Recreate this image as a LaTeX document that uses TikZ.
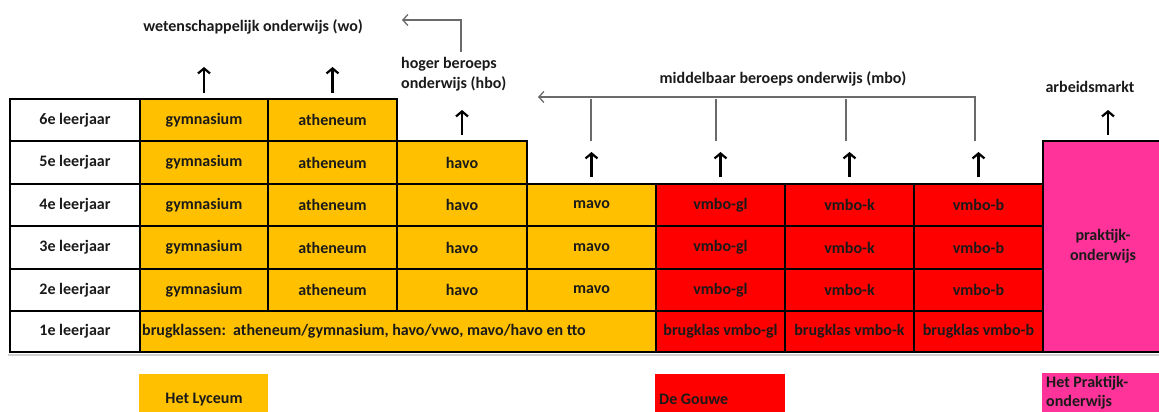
\documentclass[tikz,border=0pt]{standalone}
\usepackage{fontspec}
\setmainfont{Carlito}
\usetikzlibrary{arrows.meta}
\definecolor{lyc}{HTML}{FFC000}
\definecolor{gouwe}{HTML}{FF0000}
\definecolor{prak}{HTML}{FF3399}
\definecolor{conn}{HTML}{6A6A6A}
\definecolor{shadowline}{HTML}{D0D0D0}
\definecolor{ink}{HTML}{1A1A1A}
\newcommand\mkcell[7]{\node[cellbox,fill=#6,minimum width={(#4-#2)*1pt},minimum height={(#5-#3)*1pt}] (#1) at (#2,#3) {#7};}
\newcommand\legbox[6]{\node[legboxstyle,fill=#6,minimum width={(#4-#2)*1pt},minimum height={(#5-#3)*1pt}] (#1) at (#2,#3) {};}
\begin{document}
\begin{tikzpicture}[x=1pt,y=-1pt,
  txt/.style={font=\fontsize{16}{20}\selectfont\bfseries, text=ink, inner sep=0pt},
  cellbox/.style={draw=black, line width=2pt, inner sep=0pt, outer sep=0pt, anchor=north west, txt, align=center},
  legboxstyle/.style={draw=none, inner sep=0pt, outer sep=0pt, anchor=north west},
  up/.style={draw=black, line width=2.2pt, -{Straight Barb[length=5pt,width=12pt]}},
  gconn/.style={draw=conn, line width=1.3pt},
  garrow/.style={gconn, -{Straight Barb[length=5pt,width=11pt]}}]
\useasboundingbox (0,0) rectangle (1159,412);
% shadow line under the table
\draw[shadowline, line width=1.8pt] (8,355) -- (1159,355);
% pink block
\mkcell{prak}{1043}{141}{1163}{352}{prak}{praktijk-\\onderwijs}
% row 6
\mkcell{l6}{10}{99}{140}{141}{white}{6e leerjaar}
\mkcell{gym6}{140}{99}{268}{141}{lyc}{gymnasium}
\mkcell{ath6}{268}{99}{397}{141}{lyc}{atheneum}
% row 5
\mkcell{l5}{10}{141}{140}{184}{white}{5e leerjaar}
\mkcell{gym5}{140}{141}{268}{184}{lyc}{gymnasium}
\mkcell{ath5}{268}{141}{397}{184}{lyc}{atheneum}
\mkcell{havo5}{397}{141}{527}{184}{lyc}{havo}
% row 4
\mkcell{l4}{10}{184}{140}{226}{white}{4e leerjaar}
\mkcell{gym4}{140}{184}{268}{226}{lyc}{gymnasium}
\mkcell{ath4}{268}{184}{397}{226}{lyc}{atheneum}
\mkcell{havo4}{397}{184}{527}{226}{lyc}{havo}
\mkcell{mavo4}{527}{184}{656}{226}{lyc}{mavo}
\mkcell{gl4}{656}{184}{785}{226}{gouwe}{vmbo-gl}
\mkcell{k4}{785}{184}{914}{226}{gouwe}{vmbo-k}
\mkcell{b4}{914}{184}{1043}{226}{gouwe}{vmbo-b}
% row 3
\mkcell{l3}{10}{226}{140}{269}{white}{3e leerjaar}
\mkcell{gym3}{140}{226}{268}{269}{lyc}{gymnasium}
\mkcell{ath3}{268}{226}{397}{269}{lyc}{atheneum}
\mkcell{havo3}{397}{226}{527}{269}{lyc}{havo}
\mkcell{mavo3}{527}{226}{656}{269}{lyc}{mavo}
\mkcell{gl3}{656}{226}{785}{269}{gouwe}{vmbo-gl}
\mkcell{k3}{785}{226}{914}{269}{gouwe}{vmbo-k}
\mkcell{b3}{914}{226}{1043}{269}{gouwe}{vmbo-b}
% row 2
\mkcell{l2}{10}{269}{140}{311}{white}{2e leerjaar}
\mkcell{gym2}{140}{269}{268}{311}{lyc}{gymnasium}
\mkcell{ath2}{268}{269}{397}{311}{lyc}{atheneum}
\mkcell{havo2}{397}{269}{527}{311}{lyc}{havo}
\mkcell{mavo2}{527}{269}{656}{311}{lyc}{mavo}
\mkcell{gl2}{656}{269}{785}{311}{gouwe}{vmbo-gl}
\mkcell{k2}{785}{269}{914}{311}{gouwe}{vmbo-k}
\mkcell{b2}{914}{269}{1043}{311}{gouwe}{vmbo-b}
% row 1
\mkcell{l1}{10}{311}{140}{352}{white}{1e leerjaar}
\mkcell{brug}{140}{311}{656}{352}{lyc}{}
\node[txt, anchor=west] (brugtxt) at ([xshift=2pt]brug.west) {brugklassen:\ \ atheneum/gymnasium, havo/vwo, mavo/havo en tto};
\mkcell{gl1}{656}{311}{785}{352}{gouwe}{brugklas vmbo-gl}
\mkcell{k1}{785}{311}{914}{352}{gouwe}{brugklas vmbo-k}
\mkcell{b1}{914}{311}{1043}{352}{gouwe}{brugklas vmbo-b}
% top labels
\node[txt] (wo) at (253,27) {wetenschappelijk onderwijs (wo)};
\node[txt, anchor=west, align=left] (hbo) at (401,74) {hoger beroeps\\onderwijs (hbo)};
\node[txt] (mbo) at (783,79) {middelbaar beroeps onderwijs (mbo)};
\node[txt] (arb) at (1090,87) {arbeidsmarkt};
% black arrows
\draw[up] ([yshift=6pt]gym6.north) -- ++(0,-26);
\draw[up] ([yshift=6pt]ath6.north) -- ++(0,-26);
\draw[up] ([yshift=6pt]havo5.north) -- ++(0,-25);
\draw[up] ([yshift=7pt]mavo4.north) -- ++(0,-25);
\draw[up] ([yshift=7pt]gl4.north) -- ++(0,-25);
\draw[up] ([yshift=7pt]k4.north) -- ++(0,-25);
\draw[up] ([yshift=7pt]b4.north) -- ++(0,-25);
\coordinate (arbb) at (1108,135);
\draw[up] (arbb) -- ++(0,-25);
% gray connectors
\coordinate (hbob) at (461,52);
\coordinate (hboc) at (461,20);
\coordinate (hboh) at (402,20);
\draw[garrow] (hbob) -- (hboc) -- (hboh);
\coordinate (m4b) at (975,141);
\coordinate (m4t) at (975,97);
\coordinate (mh) at (538,97);
\draw[garrow] (m4b) -- (m4t) -- (mh);
\coordinate (m1b) at (591,141);
\coordinate (m1t) at (591,99);
\coordinate (m2b) at (716,141);
\coordinate (m2t) at (716,99);
\coordinate (m3b) at (846,141);
\coordinate (m3t) at (846,99);
\draw[gconn] (m1b) -- (m1t);
\draw[gconn] (m2b) -- (m2t);
\draw[gconn] (m3b) -- (m3t);
% legend
\legbox{leg1}{139}{374}{268}{415}{lyc}
\node[txt] (leg1t) at (204,400) {Het Lyceum};
\legbox{leg2}{655}{374}{785}{415}{gouwe}
\node[txt, anchor=west] (leg2t) at (659,399) {De Gouwe};
\legbox{leg3}{1042}{373}{1162}{415}{prak}
\node[txt, anchor=north west, align=left, font=\fontsize{16}{19}\selectfont\bfseries] (leg3t) at (1046,376) {Het Praktijk-\\onderwijs};
\end{tikzpicture}
\end{document}
